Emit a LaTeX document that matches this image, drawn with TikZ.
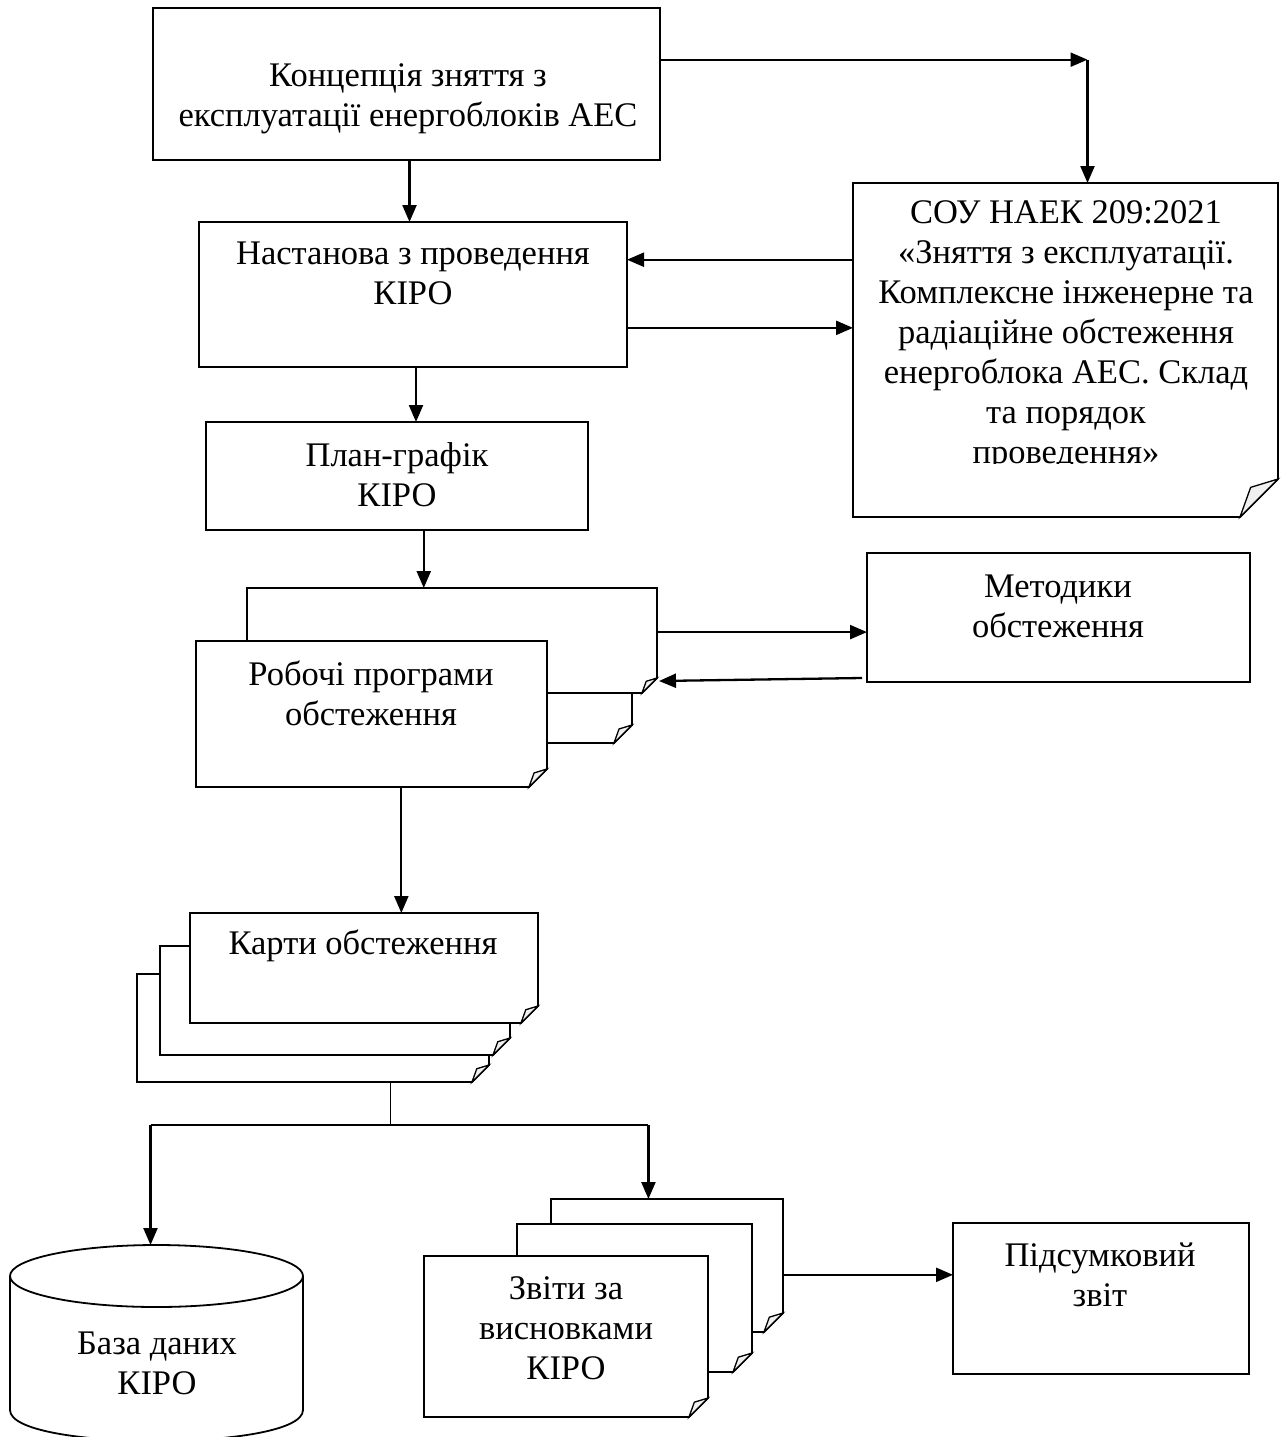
\documentclass[tikz,border=0pt]{standalone}
\usepackage{fontspec}
\setmainfont{Liberation Serif}
\usetikzlibrary{arrows.meta,calc,fit}
\tikzset{
  box/.style={draw, line width=1.8pt, inner sep=0pt, outer sep=0pt},
  holder/.style={inner sep=0pt, outer sep=0pt},
  page/.style={draw, line width=1.8pt, fill=white, line join=miter},
  flap/.style={draw, line width=1.3pt, fill=gray!12},
  conn/.style={line width=2.3pt, -{Triangle[length=17pt,width=14pt]}},
  plain/.style={line width=1.8pt},
  txt/.style={align=center, inner sep=0pt, font=\fontsize{34.5}{40}\selectfont}
}
\newcommand\mydoc[4]{%
  \node[holder, fit={#2 #3}] (#1) {};
  \draw[page] (#1.north west) -- (#1.north east) -- ($(#1.south east)+(0,-#4)$)
     -- ($(#1.south east)+(-#4,0)$) -- (#1.south west) -- cycle;
  \draw[flap] ($(#1.south east)+(0,-#4)$) -- ($(#1.south east)+(-#4,0)$)
     -- ($(#1.south east)+(-0.72*#4,-0.78*#4)$) -- cycle;
}
\begin{document}
\begin{tikzpicture}[x=1pt,y=-1pt]
\useasboundingbox (0,0) rectangle (1280,1437);
\fill[white] (0,0) rectangle (1280,1437);

% plain boxes
\node[box, fit={(153,8) (660,160)}] (c1) {};
\node[box, fit={(199,222) (627,367)}] (nast) {};
\node[box, fit={(206,422) (588,530)}] (plan) {};
\node[box, fit={(867,553) (1250,682)}] (metod) {};
\node[box, fit={(953,1223) (1249,1374)}] (pids) {};

% SOU document
\mydoc{sou}{(853,183)}{(1278,517)}{38}

% work programmes stack
\mydoc{robb}{(247,588)}{(657,693)}{15}
\mydoc{robm}{(222,693)}{(632,743)}{18}
\mydoc{robf}{(196,641)}{(547,787)}{18}

% maps stack
\mydoc{kb}{(137,974)}{(489,1082)}{17}
\mydoc{km}{(160,946)}{(510,1055)}{17}
\mydoc{kf}{(190,913)}{(538,1023)}{17}

% reports stack
\mydoc{zb}{(551,1199)}{(783,1332)}{19}
\mydoc{zm}{(517,1224)}{(752,1372)}{19}
\mydoc{zf}{(424,1256)}{(708,1417)}{19}

% database cylinder
\node[holder, fit={(10,1245) (303,1441)}] (db) {};
\fill[white] (10,1276) -- (10,1410) .. controls (10,1451.3) and (303,1451.3) .. (303,1410) -- (303,1276) -- cycle;
\draw[plain] (10,1276) -- (10,1410) .. controls (10,1451.3) and (303,1451.3) .. (303,1410) -- (303,1276);
\draw[plain, fill=white] (156.5,1276) ellipse [x radius=146.5, y radius=31];

% texts
\node[txt] (t1) at (408,99) {Концепція зняття з\\експлуатації енергоблоків АЕС};
\node[txt] (t2) at (413,273) {Настанова з проведення\\КІРО};
\node[txt] (t3) at (397,475) {План-графік\\КІРО};
\begin{scope}
\clip (853,183) rectangle (1278,463);
\node[txt] (t4) at (1066,336) {СОУ НАЕК 209:2021\\«Зняття з експлуатації.\\Комплексне інженерне та\\радіаційне обстеження\\енергоблока АЕС. Склад\\та порядок\\проведення»};
\end{scope}
\node[txt] (t5) at (1058,606) {Методики\\обстеження};
\node[txt] (t6) at (371,693) {Робочі програми\\обстеження};
\node[txt] (t7) at (363,946) {Карти обстеження};
\node[txt] (t8) at (157,1363) {База даних\\КІРО};
\node[txt] (t9) at (566,1328) {Звіти за\\висновками\\КІРО};
\node[txt] (t10) at (1100,1275) {Підсумковий\\звіт};

% connectors
\coordinate (c1r) at ($(c1.north east)!0.34!(c1.south east)$);
\coordinate (corner) at ($(c1r -| sou.north)+(22,0)$);
\draw[conn] (c1r) -- (corner);
\draw[conn] (corner) -- (corner |- sou.north);

\coordinate (c1b) at ($(c1.south)+(3,0)$);
\draw[conn] (c1b) -- (c1b |- nast.north);

\coordinate (n1) at ($(nast.north east)!0.26!(nast.south east)$);
\coordinate (n2) at ($(nast.north east)!0.73!(nast.south east)$);
\draw[conn] (n1 -| sou.west) -- (n1);
\draw[conn] (n2) -- (n2 -| sou.west);

\coordinate (nb) at ($(nast.south)+(3,0)$);
\draw[conn] (nb) -- (nb |- plan.north);

\coordinate (p1) at ($(plan.south west)!0.57!(plan.south east)$);
\draw[conn] (p1) -- (p1 |- robb.north);

\coordinate (r1) at ($(robb.north east)!0.42!(robb.south east)$);
\draw[conn] (r1) -- (r1 -| metod.west);
\draw[conn] ($(metod.south west)+(-5,-4)$) -- ($(robb.south east)+(2,-12)$);

\coordinate (r2) at ($(robf.south west)!0.585!(robf.south east)$);
\draw[conn] (r2) -- (r2 |- kf.north);

\coordinate (k1) at ($(kb.south west)!0.72!(kb.south east)$);
\coordinate (split) at ($(k1)+(0,43)$);
\draw[plain] (k1) -- (split);
\coordinate (dbin) at ($(db.north)+(-6,0)$);
\coordinate (zbin) at ($(zb.north west)!0.42!(zb.north east)$);
\draw[plain] (split -| dbin) -- (split -| zbin);
\draw[conn] (split -| dbin) -- (dbin);
\draw[conn] (split -| zbin) -- (zbin);

\coordinate (z1) at ($(zb.north east)!0.57!(zb.south east)$);
\draw[conn] (z1) -- (z1 -| pids.west);
\end{tikzpicture}
\end{document}
